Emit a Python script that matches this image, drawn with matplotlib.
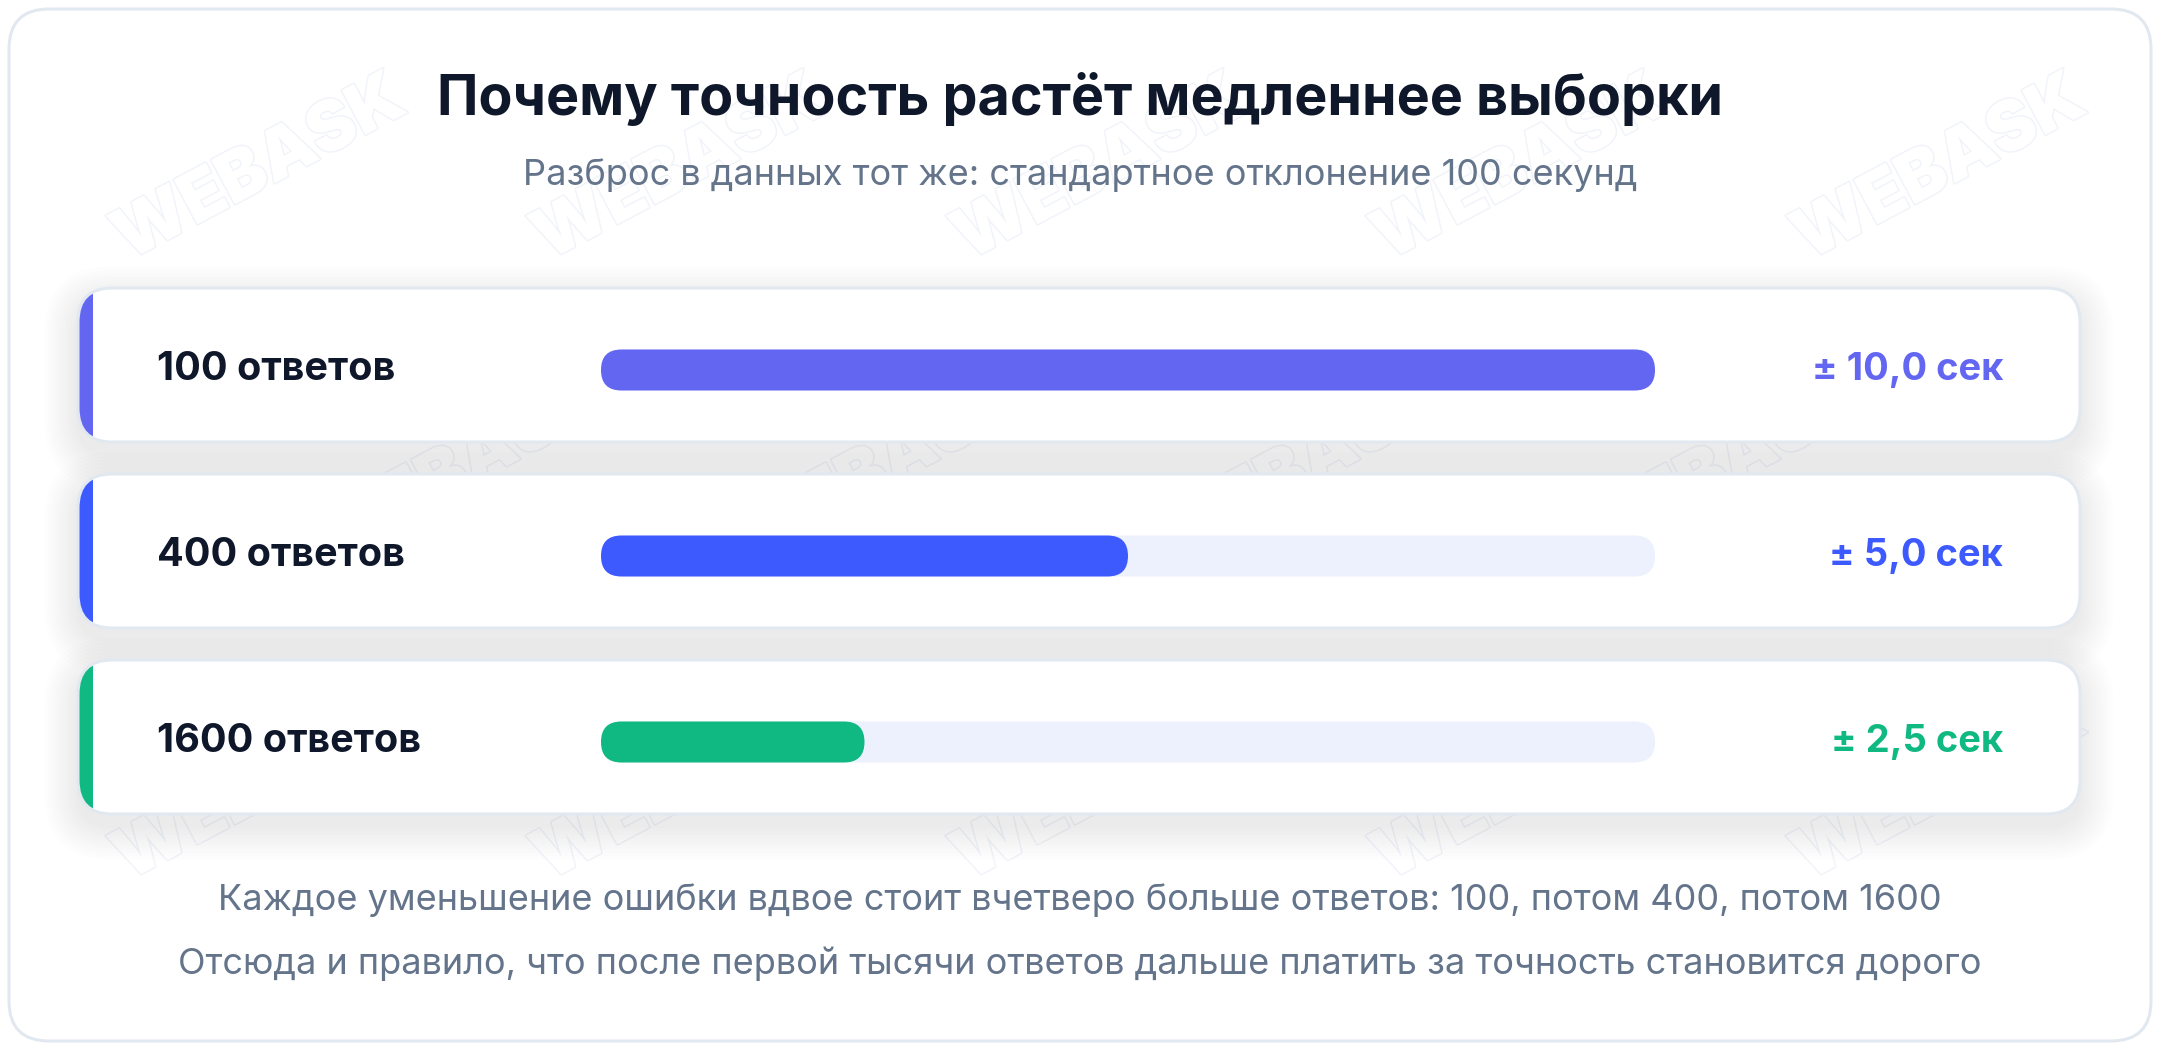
import matplotlib
matplotlib.use('Agg')
import matplotlib.pyplot as plt
import matplotlib.patheffects as pe
from matplotlib.patches import FancyBboxPatch, Rectangle

plt.rcParams['font.family'] = ['Inter', 'DejaVu Sans']

# данные
title = 'Почему точность растёт медленнее выборки'
subtitle = 'Разброс в данных тот же: стандартное отклонение 100 секунд'
sample_sizes = [100, 400, 1600]
errors = [10.0, 5.0, 2.5]          # ± секунд
bar_colors = ['#6366f1', '#3d5afe', '#10b981']
notes = [
    'Каждое уменьшение ошибки вдвое стоит вчетверо больше ответов: 100, потом 400, потом 1600',
    'Отсюда и правило, что после первой тысячи ответов дальше платить за точность становится дорого',
]

W, H = 2160, 1050
fig = plt.figure(figsize=(W / 100, H / 100), dpi=100)
fig.patch.set_facecolor('white')
ax = fig.add_axes([0, 0, 1, 1])
ax.set_xlim(0, W)
ax.set_ylim(H, 0)
ax.axis('off')

border = '#e2e8f0'

# внешняя рамка
ax.add_patch(FancyBboxPatch((9, 9), W - 18, H - 18, boxstyle='round,pad=0,rounding_size=40',
                            fc='white', ec=border, lw=2.2, zorder=0))

# водяной знак (только внутри рамки)
for row, y0 in enumerate([170, 470, 790]):
    for col in range(5):
        x = 260 + col * 420 + (200 if row % 2 else 0)
        if x > 1950:
            continue
        ax.text(x, y0, 'WEBASK', fontsize=50, fontweight='black', rotation=28,
                color='white', ha='center', va='center', zorder=0.5,
                path_effects=[pe.withStroke(linewidth=2, foreground='#f0f3f9')])

ax.text(W / 2, 99, title, fontsize=40, fontweight='bold', color='#0f172a',
        ha='center', va='center', zorder=5)
ax.text(W / 2, 175, subtitle, fontsize=26, color='#64748b',
        ha='center', va='center', zorder=5)

card_x, card_w, card_h = 78, 2002, 154
track_x, track_w, track_h = 601, 1054, 41
max_err = max(errors)

for i, (n, err, c) in enumerate(zip(sample_sizes, errors, bar_colors)):
    top = 288 + i * 186
    cy = top + card_h / 2 + 5

    # тень
    for k in range(10):
        g = 2 + k * 3.5
        ax.add_patch(FancyBboxPatch((card_x - g, top - g + 12), card_w + 2 * g, card_h + 2 * g,
                                    boxstyle='round,pad=0,rounding_size=%d' % (34 + g),
                                    fc='#1e293b', ec='none', alpha=0.006, zorder=1))
    card = FancyBboxPatch((card_x, top), card_w, card_h, boxstyle='round,pad=0,rounding_size=34',
                          fc='white', ec='none', zorder=2)
    ax.add_patch(card)
    accent = Rectangle((card_x, top), 15, card_h, fc=c, ec='none', zorder=3)
    ax.add_patch(accent)
    accent.set_clip_path(card)
    ax.add_patch(FancyBboxPatch((card_x, top), card_w, card_h, boxstyle='round,pad=0,rounding_size=34',
                                fc='none', ec=border, lw=2.2, zorder=4))

    ax.text(157, cy, '%d ответов' % n, fontsize=28.5, fontweight='bold', color='#0f172a',
            ha='left', va='center', zorder=5)
    ax.text(2003, cy, ('± %.1f сек' % err).replace('.', ','), fontsize=27.4, fontweight='bold',
            color=c, ha='right', va='center', zorder=5)

    # полоса
    tax = fig.add_axes([track_x / W, 1 - (cy + track_h / 2) / H, track_w / W, track_h / H])
    tax.set_xlim(0, max_err)
    tax.set_ylim(0, 1)
    tax.axis('off')
    r = (track_h / 2) * max_err / track_w
    asp = 0.5 / r
    tax.add_patch(FancyBboxPatch((0, 0), max_err, 1, boxstyle='round,pad=0,rounding_size=%f' % r,
                                 mutation_aspect=asp, fc='#edf1fd', ec='none', clip_on=False))
    tax.add_patch(FancyBboxPatch((0, 0), err, 1, boxstyle='round,pad=0,rounding_size=%f' % r,
                                 mutation_aspect=asp, fc=c, ec='none', clip_on=False))

for j, line in enumerate(notes):
    ax.text(W / 2, 900 + j * 64, line, fontsize=26, color='#64748b',
            ha='center', va='center', zorder=5)

fig.savefig('out.png', dpi=100, facecolor='white')
